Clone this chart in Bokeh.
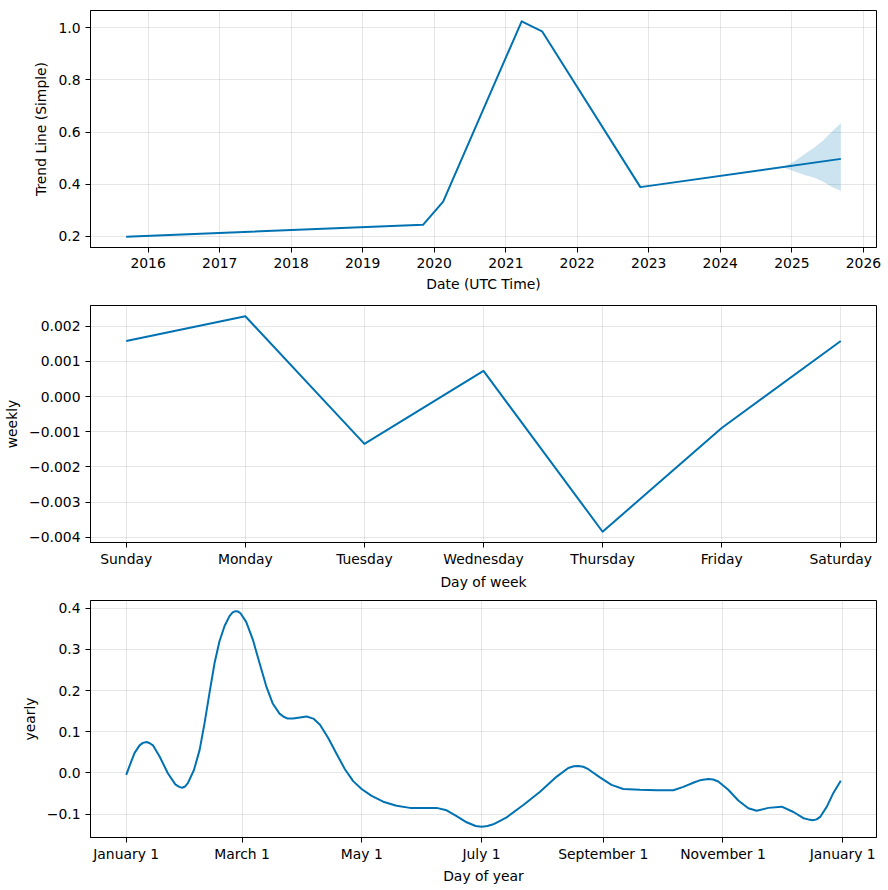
import pandas as pd
from bokeh.plotting import figure
from bokeh.layouts import column
from bokeh.models import FixedTicker, DatetimeTickFormatter, Range1d
from bokeh.embed import file_html
from bokeh.resources import INLINE

# ---------------- data ----------------
trend_dates = ["2015-09-11", "2019-11-05", "2020-02-16", "2021-03-23",
               "2021-07-05", "2022-11-19", "2025-09-08"]
trend_values = [0.198, 0.2435, 0.333, 1.0254, 0.987, 0.3885, 0.497]

band_dates = ["2024-11-16", "2025-01-14", "2025-03-06", "2025-04-26",
              "2025-06-08", "2025-07-20", "2025-09-08"]
band_upper = [0.465, 0.488, 0.515, 0.541, 0.567, 0.598, 0.635]
band_lower = [0.465, 0.448, 0.435, 0.424, 0.410, 0.391, 0.374]

trend_year_ticks = ["2016", "2017", "2018", "2019", "2020", "2021",
                    "2022", "2023", "2024", "2025", "2026"]
trend_y_ticks = [0.2, 0.4, 0.6, 0.8, 1.0]
trend_y_labels = ["0.2", "0.4", "0.6", "0.8", "1.0"]

week_days = ["Sunday", "Monday", "Tuesday", "Wednesday", "Thursday",
             "Friday", "Saturday"]
weekly_values = [0.00158, 0.002284, -0.001344, 0.00073, -0.00384,
                 -0.00089, 0.00158]
weekly_y_ticks = [0.002, 0.001, 0.0, -0.001, -0.002, -0.003, -0.004]
weekly_y_labels = ["0.002", "0.001", "0.000", "\u22120.001", "\u22120.002",
                   "\u22120.003", "\u22120.004"]

yearly_days = [0, 1.7, 4.2, 6.8, 8.5, 10.4, 12.0, 13.6, 17.0, 21.2, 25.0,
               27.0, 28.5, 30.0, 31.4, 34.5, 37.4, 39.9, 42.4, 45.0, 47.5,
               50.1, 52.6, 54.2, 55.7, 57.0, 58.2, 61.1, 64.5, 67.9, 71.3,
               74.7, 78.1, 80.0, 82.3, 85.0, 87.6, 91.9, 95.3, 98.7, 102.9,
               107.2, 111.4, 115.6, 119.9, 125.0, 130.9, 137.7, 144.5, 151.3,
               158.1, 163.2, 168.3, 173.4, 178.0, 181.0, 184.0, 187.0, 193.8,
               202.3, 210.8, 219.3, 225.2, 228.0, 230.3, 232.8, 235.4, 241.3,
               247.2, 253.2, 261.7, 270.2, 278.7, 283.8, 289.8, 293.0, 296.5,
               299.0, 301.6, 306.7, 311.8, 316.9, 321.2, 327.1, 333.9, 339.9,
               345.0, 347.5, 349.7, 351.7, 353.5, 356.9, 360.3, 364.0]
yearly_values = [-0.005, 0.017, 0.048, 0.067, 0.073, 0.075, 0.072, 0.067,
                 0.040, -0.001, -0.028, -0.034, -0.036, -0.033, -0.025, 0.007,
                 0.056, 0.121, 0.194, 0.267, 0.320, 0.357, 0.381, 0.390,
                 0.393, 0.392, 0.388, 0.367, 0.324, 0.267, 0.211, 0.168,
                 0.144, 0.137, 0.132, 0.132, 0.134, 0.137, 0.132, 0.117,
                 0.085, 0.046, 0.009, -0.020, -0.039, -0.056, -0.070, -0.080,
                 -0.085, -0.085, -0.085, -0.091, -0.105, -0.120, -0.129,
                 -0.131, -0.129, -0.125, -0.108, -0.078, -0.046, -0.009,
                 0.012, 0.016, 0.017, 0.015, 0.009, -0.011, -0.029, -0.039,
                 -0.041, -0.042, -0.042, -0.034, -0.022, -0.017, -0.015,
                 -0.016, -0.021, -0.041, -0.067, -0.086, -0.092, -0.085,
                 -0.082, -0.095, -0.110, -0.113, -0.115, -0.113, -0.107,
                 -0.082, -0.048, -0.019]
month_tick_days = [0, 59, 120, 181, 243, 304, 365]
month_tick_labels = ["January 1", "March 1", "May 1", "July 1",
                     "September 1", "November 1", "January 1"]
yearly_y_ticks = [-0.1, 0.0, 0.1, 0.2, 0.3, 0.4]
yearly_y_labels = ["\u22120.1", "0.0", "0.1", "0.2", "0.3", "0.4"]

# ---------------- styling ----------------
LINE = "#0072B2"
FONT = "DejaVu Sans"
FS = "13.9px"
W = 888


def style(p, label_standoff=5, title_standoff=6):
    p.outline_line_color = "black"
    p.outline_line_width = 1
    p.outline_line_alpha = 1
    p.background_fill_color = "white"
    p.border_fill_color = "white"
    for ax in list(p.xaxis) + list(p.yaxis):
        ax.axis_line_color = "black"
        ax.axis_line_width = 1
        ax.major_tick_line_color = "black"
        ax.major_tick_line_width = 1
        ax.major_tick_out = 5
        ax.major_tick_in = 0
        ax.minor_tick_line_color = None
        ax.major_label_text_font = FONT
        ax.major_label_text_font_size = FS
        ax.major_label_text_color = "black"
        ax.axis_label_text_font = FONT
        ax.axis_label_text_font_size = FS
        ax.axis_label_text_font_style = "normal"
        ax.axis_label_text_color = "black"
        ax.major_label_standoff = 5
        ax.axis_label_standoff = 6
    for ax in p.xaxis:
        ax.major_label_standoff = label_standoff
        ax.axis_label_standoff = title_standoff
    for g in list(p.xgrid) + list(p.ygrid):
        g.grid_line_color = "gray"
        g.grid_line_alpha = 0.2
        g.grid_line_width = 1


# ---- panel 1: trend ----
td = pd.to_datetime(trend_dates)
bd = pd.to_datetime(band_dates)
x_start = pd.Timestamp("2015-03-13")
x_end = pd.Timestamp("2026-03-09")
p1 = figure(width=W, height=303, x_axis_type="datetime",
            x_range=Range1d(x_start, x_end), y_range=Range1d(0.1566, 1.0668),
            output_backend="svg", toolbar_location=None,
            min_border_left=90, min_border_right=12,
            min_border_top=10, min_border_bottom=56)
p1.varea(x=bd, y1=band_lower, y2=band_upper, fill_color=LINE, fill_alpha=0.2)
p1.line(td, trend_values, line_color=LINE, line_width=2, line_join="round")
year_ms = [pd.Timestamp(y + "-01-01").value / 1e6 for y in trend_year_ticks]
p1.xaxis.ticker = FixedTicker(ticks=year_ms)
p1.xaxis.formatter = DatetimeTickFormatter(
    years="%Y", months="%Y", days="%Y", hours="%Y", minutes="%Y",
    seconds="%Y", milliseconds="%Y", microseconds="%Y", hourmin="%Y",
    minsec="%Y")
p1.yaxis.ticker = FixedTicker(ticks=trend_y_ticks)
p1.yaxis.major_label_overrides = dict(zip(trend_y_ticks, trend_y_labels))
p1.xaxis.axis_label = "Date (UTC Time)"
p1.yaxis.axis_label = "Trend Line (Simple)"
style(p1, 5, 5)

# ---- panel 2: weekly ----
wx = list(range(len(week_days)))
p2 = figure(width=W, height=295,
            x_range=Range1d(-0.3, 6.3), y_range=Range1d(-0.004146, 0.00259),
            output_backend="svg", toolbar_location=None,
            min_border_left=90, min_border_right=12,
            min_border_top=2, min_border_bottom=56)
p2.line(wx, weekly_values, line_color=LINE, line_width=2, line_join="round")
p2.xaxis.ticker = FixedTicker(ticks=wx)
p2.xaxis.major_label_overrides = dict(zip(wx, week_days))
p2.yaxis.ticker = FixedTicker(ticks=weekly_y_ticks)
p2.yaxis.major_label_overrides = dict(zip(weekly_y_ticks, weekly_y_labels))
p2.xaxis.axis_label = "Day of week"
p2.yaxis.axis_label = "weekly"
style(p2, 3, 4)

# ---- panel 3: yearly ----
p3 = figure(width=W, height=289,
            x_range=Range1d(-18.2, 382.2), y_range=Range1d(-0.157, 0.419),
            output_backend="svg", toolbar_location=None,
            min_border_left=90, min_border_right=12,
            min_border_top=2, min_border_bottom=50)
p3.line(yearly_days, yearly_values, line_color=LINE, line_width=2,
        line_join="round")
p3.xaxis.ticker = FixedTicker(ticks=month_tick_days)
p3.xaxis.major_label_overrides = dict(zip(month_tick_days, month_tick_labels))
p3.yaxis.ticker = FixedTicker(ticks=yearly_y_ticks)
p3.yaxis.major_label_overrides = dict(zip(yearly_y_ticks, yearly_y_labels))
p3.xaxis.axis_label = "Day of year"
p3.yaxis.axis_label = "yearly"
style(p3, 3, 3)

layout = column(p1, p2, p3, spacing=0)
open("out.html", "w").write(file_html(layout, INLINE))
